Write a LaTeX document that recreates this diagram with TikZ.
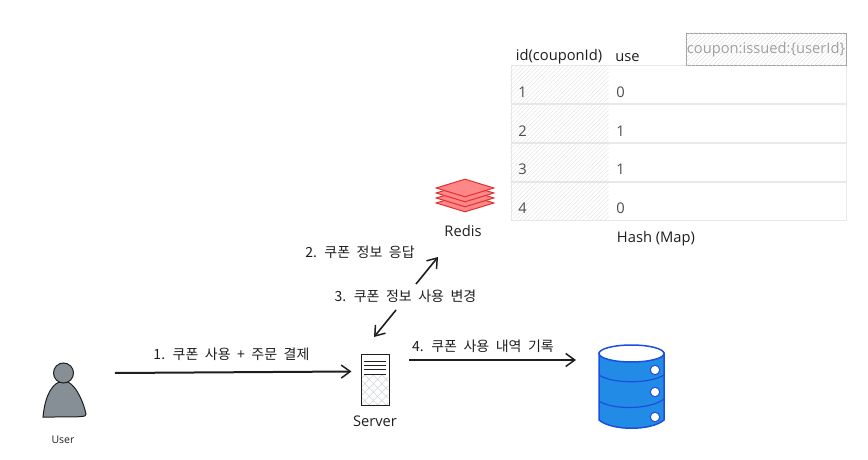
\documentclass[tikz,border=0pt]{standalone}
\usepackage{fontspec}
\setmainfont{Noto Sans CJK KR}
\newfontfamily\handfont{Open Sans}
\usetikzlibrary{
  arrows.meta,
  patterns.meta,
  shapes.geometric,
  positioning
}
\definecolor{inkblack}{HTML}{1E1E1E}
\definecolor{rowline}{HTML}{E9E9E9}
\definecolor{keygray}{HTML}{A0A0A0}
\definecolor{hatchgray}{HTML}{DEDEDE}
\definecolor{redisfill}{HTML}{FF8787}
\definecolor{redisline}{HTML}{E03131}
\definecolor{userfill}{HTML}{868E96}
\definecolor{dbfill}{HTML}{228BE6}
\definecolor{dbline}{HTML}{1C4FE0}
\definecolor{crossblue}{HTML}{CED4DA}
\tikzset{>={Straight Barb[length=9pt,width=13pt,line width=1.5pt]}}
\tikzset{
  flow/.style={->, color=inkblack, line width=1.6pt},
  steplabel/.style={font=\fontsize{14}{16}\selectfont, execute at begin node={\spaceskip=6.5pt\relax}, color=inkblack, inner sep=0pt},
  handlabel/.style={font=\handfont\fontsize{14.7}{16}\selectfont, color=inkblack, inner sep=0pt},
  rowbox/.style={draw=rowline, line width=0.8pt, minimum width=335pt, minimum height=38pt, inner sep=0pt},
  hatchbox/.style={pattern={Lines[angle=45,distance=3pt,line width=0.35pt]}, pattern color=hatchgray},
  redislayer/.style={diamond, draw=redisline, fill=redisfill, line width=1pt, inner sep=0pt,
    minimum width=58pt, minimum height=18pt, aspect=3.2}
}
\begin{document}
\begin{tikzpicture}[x=1pt, y=-1pt]
  \useasboundingbox (0,0) rectangle (868,460);

  % user
  \draw[fill=userfill, draw=inkblack, line width=1pt] (43,417)
    .. controls (45,395) and (53,381) .. (64,381)
    .. controls (74,381) and (83,400) .. (86,414)
    .. controls (86,417) and (85,417) .. (43,417) -- cycle;
  \node[circle, draw=inkblack, fill=userfill, line width=1pt, minimum size=20pt, inner sep=0pt] (userhead) at (63.5,373) {};
  \node[handlabel, font=\handfont\fontsize{10.5}{12}\selectfont] (userlabel) at (63,440) {User};
  \coordinate (userout) at (115,373);

  % server
  \node[draw=inkblack, line width=1pt, minimum width=28pt, minimum height=51pt, inner sep=0pt] (server) at (375,379.5) {};
  \fill[pattern={Lines[angle=45,distance=6pt,line width=0.5pt]}, pattern color=crossblue] (362,375) rectangle (388,404.5);
  \fill[pattern={Lines[angle=-45,distance=6pt,line width=0.5pt]}, pattern color=crossblue] (362,375) rectangle (388,404.5);
  \foreach \y in {361,365,369,374}
    \draw[color=inkblack, line width=0.8pt] (364,\y) -- (386,\y);
  \node[handlabel] (serverlabel) at (375,421) {Server};

  % redis
  \foreach \y/\n in {203/d,198/c,193/b,188/a}
    \node[redislayer] (redis\n) at (465,\y) {};
  \node[handlabel] (redislabel) at (463,231) {Redis};

  % database
  \draw[fill=dbfill, draw=dbline, line width=1.5pt] (599,353) -- (599,420)
    .. controls (612,431) and (651,431) .. (664,420) -- (664,353) -- cycle;
  \node[ellipse, draw=dbline, fill=white, line width=1.5pt, minimum width=65pt, minimum height=17pt, inner sep=0pt] (dbtop) at (631.5,353.5) {};
  \draw[color=dbline, line width=1.2pt] (599,375) .. controls (612,384) and (650,384) .. (664,375);
  \draw[color=dbline, line width=1.2pt] (599,401) .. controls (612,410) and (650,410) .. (664,399);
  \foreach \y/\n in {370/a,392/b,417/c}
    \node[circle, draw=dbline, fill=white, line width=1pt, minimum size=9.5pt, inner sep=0pt] (hole\n) at (655,\y) {};

  % hash table
  \foreach \y/\n/\id/\val in {84.5/a/1/0,123.5/b/2/1,162/c/3/1,201/d/4/0} {
    \node[rowbox] (row\n) at (678.5,\y) {};
    \fill[hatchbox] (row\n.north west) rectangle ([xshift=98pt]row\n.south west);
    \node[handlabel, color=black!70] (id\n) at (522.5,\y+7.5) {\id};
    \node[handlabel, color=black!70] (val\n) at (620.5,\y+7.5) {\val};
  }
  \node[draw=keygray, line width=0.8pt, minimum width=160pt, minimum height=32pt, inner sep=0pt] (keybox) at (766,49) {};
  \fill[hatchbox] (keybox.north west) rectangle (keybox.south east);
  \node[handlabel, color=keygray] (keylabel) at (766,49.5) {coupon:issued:\{userId\}};
  \node[handlabel] (idhead) at (559,57) {id(couponId)};
  \node[handlabel] (usehead) at (627.5,58) {use};
  \node[handlabel] (hashlabel) at (656,239) {Hash (Map)};

  % connectors
  \coordinate (redisin) at (438,257);
  \coordinate (serverout) at (416,284);
  \coordinate (redisout) at (396,310);
  \coordinate (serverin) at (374,337);
  \coordinate (dbout) at (409,360);
  \coordinate (dbin) at (576,360);
  \draw[flow, line width=2pt] (userout) -- ([xshift=-9pt,yshift=8pt]server.west);
  \draw[flow] (serverout) -- (redisin);
  \draw[flow] (redisout) -- (serverin);
  \draw[flow] (dbout) -- (dbin);

  \node[steplabel] (label1) at (231.5,354) {1. 쿠폰 사용 + 주문 결제};
  \node[steplabel] (label2) at (360,252) {2. 쿠폰 정보 응답};
  \node[steplabel] (label3) at (405.5,296) {3. 쿠폰 정보 사용 변경};
  \node[steplabel] (label4) at (483,346) {4. 쿠폰 사용 내역 기록};
\end{tikzpicture}
\end{document}
